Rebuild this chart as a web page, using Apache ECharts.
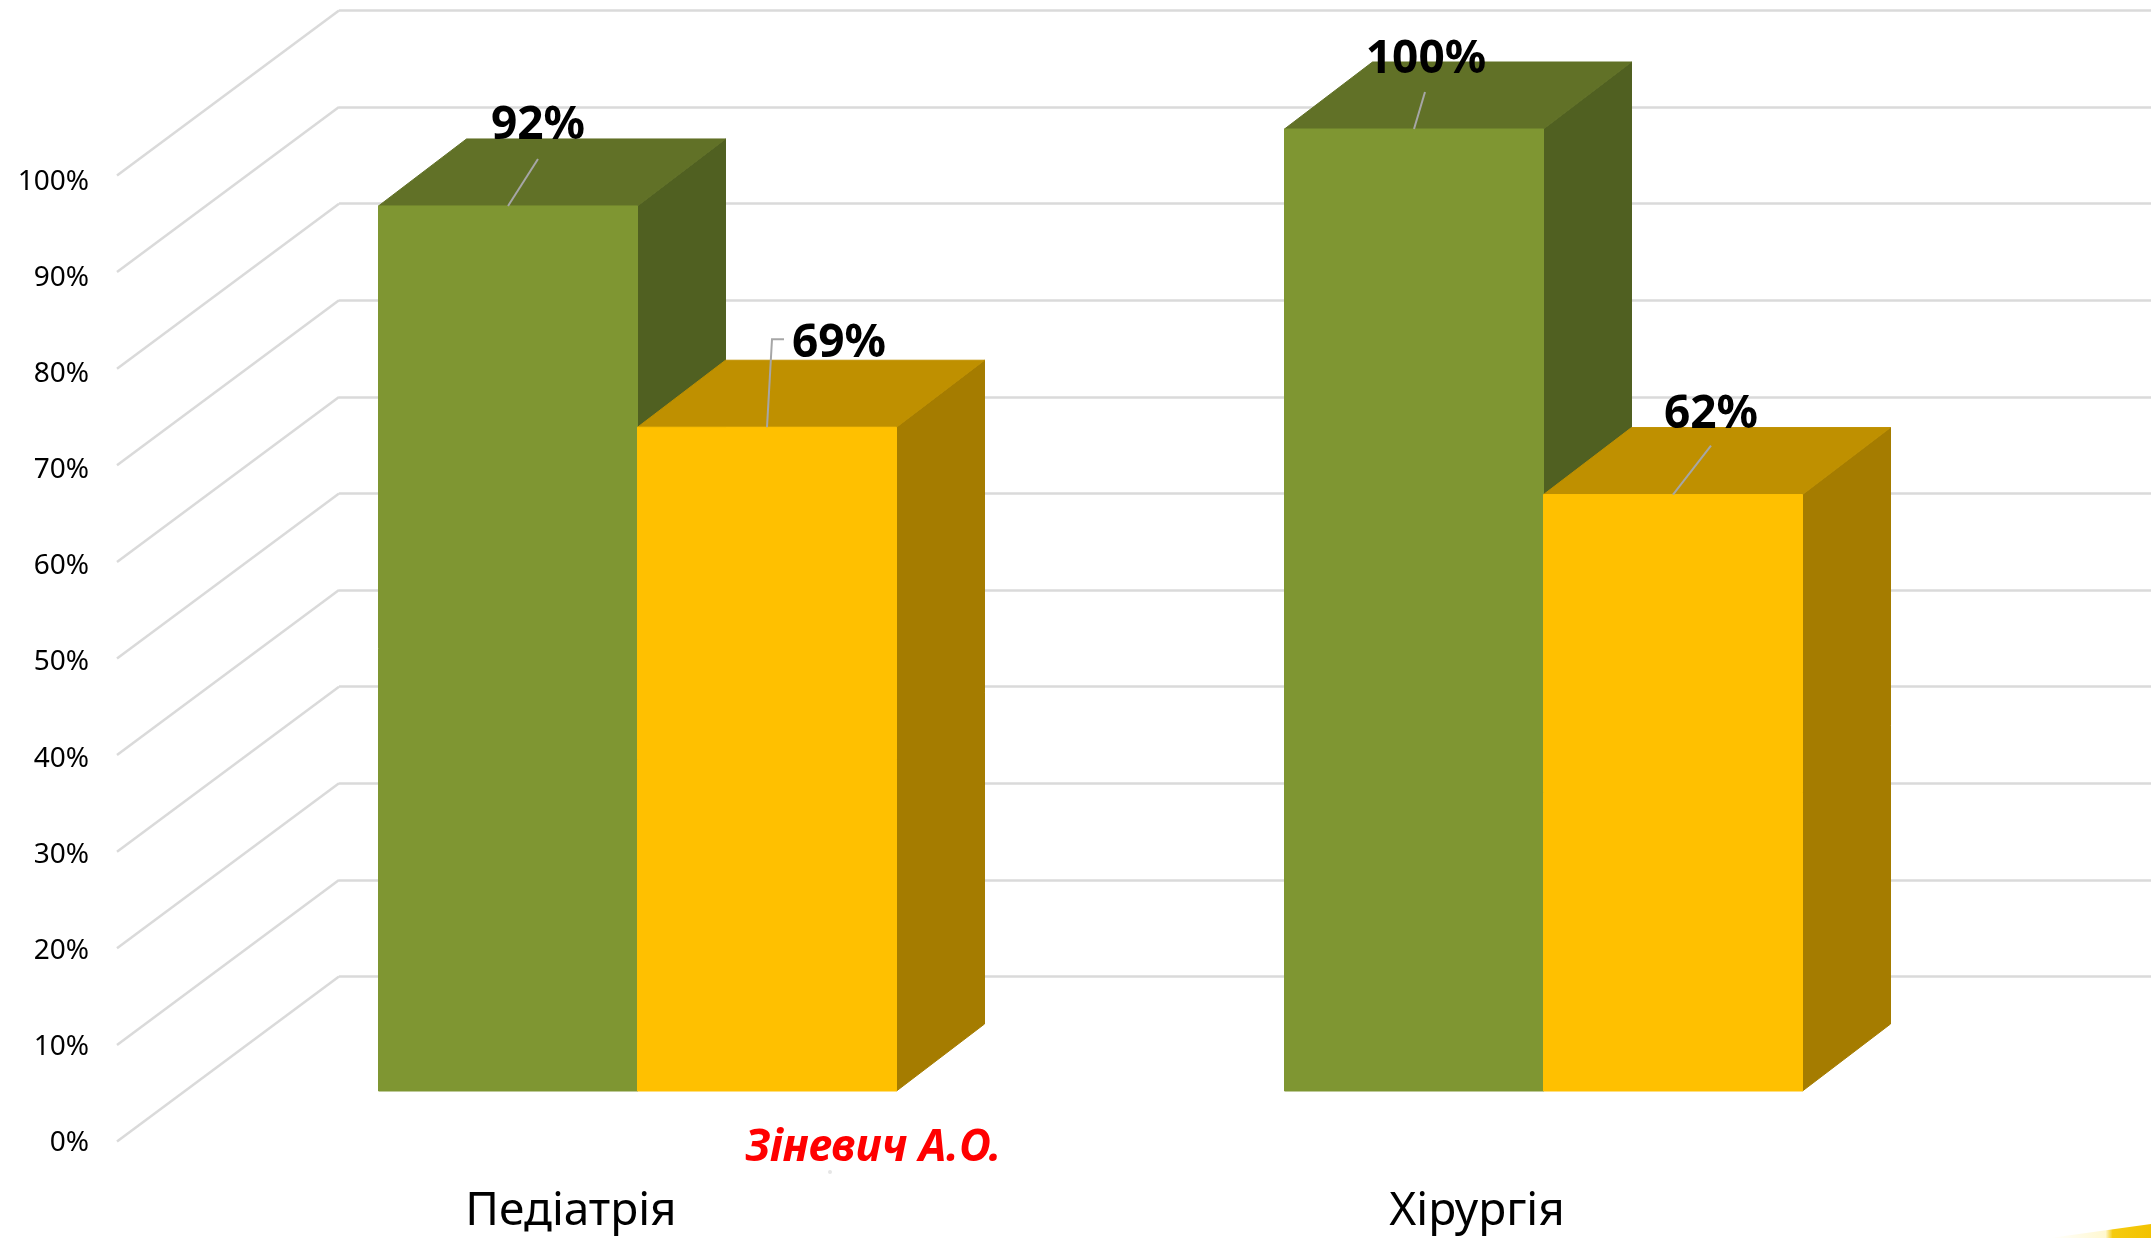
<!DOCTYPE html>
<html>
<head>
<meta charset="utf-8">
<style>
  html, body { margin: 0; padding: 0; background: #fff; }
  #chart { width: 2151px; height: 1238px; }
</style>
<script src="https://cdn.jsdelivr.net/npm/echarts@6/dist/echarts.min.js"></script>
</head>
<body>
<div id="chart"></div>
<script>
const categories = ['Педіатрія', 'Хірургія']
const greenValues = [92, 100]
const yellowValues = [69, 62]
const wallTicks = [0, 10, 20, 30, 40, 50, 60, 70, 80, 90, 100]

// leader line and label position, relative to the middle of the bar's top edge
const greenLabels = [
  { text: [30, -80], line: [[0, 0], [30, -47]] },
  { text: [12, -69], line: [[0, 0], [11, -37]] }
]
const yellowLabels = [
  { text: [72, -83], line: [[0, 0], [5, -88], [17, -88]] },
  { text: [38, -80], line: [[0, 0], [38, -49]] }
]

const font = '"Noto Sans", sans-serif'
const barWidth = 259
const barDepth = [88, -67]
const wallDepth = [-222, 165]

function barSeries(name, values, labels, side, colors) {
  return {
    name: name,
    type: 'custom',
    xAxisIndex: 0,
    yAxisIndex: 0,
    z: 5,
    data: values.map((v, i) => [i, v]),
    renderItem: function(params, api) {
      const top = api.coord([api.value(0), api.value(1)])
      const base = api.coord([api.value(0), 0])
      const x0 = side < 0 ? top[0] - barWidth : top[0]
      const x1 = x0 + barWidth
      const dx = barDepth[0]
      const dy = barDepth[1]
      const mid = (x0 + x1) / 2
      const label = labels[params.dataIndex]
      const poly = (points, fill) => ({
        type: 'polygon',
        shape: { points: points },
        style: { fill: fill, stroke: fill, lineWidth: 1 }
      })
      return {
        type: 'group',
        children: [
          poly([[x1, top[1]], [x1 + dx, top[1] + dy], [x1 + dx, base[1] + dy], [x1, base[1]]], colors.side),
          poly([[x0, top[1]], [x0 + dx, top[1] + dy], [x1 + dx, top[1] + dy], [x1, top[1]]], colors.top),
          poly([[x0, top[1]], [x1, top[1]], [x1, base[1]], [x0, base[1]]], colors.front),
          {
            type: 'polyline',
            shape: { points: label.line.map(p => [mid + p[0], top[1] + p[1]]) },
            style: { stroke: '#a6a6a6', lineWidth: 2, fill: 'none' }
          },
          {
            type: 'text',
            x: mid + label.text[0],
            y: top[1] + label.text[1],
            style: {
              text: api.value(1) + '%',
              fill: '#000',
              font: 'bold 46px ' + font,
              align: 'center',
              verticalAlign: 'middle'
            }
          }
        ]
      }
    }
  }
}

const option = {
  animation: false,
  backgroundColor: '#fff',
  grid: [
    // front plane of the bars
    { left: 184.5, top: 129, width: 1812, height: 962 },
    // front edge of the floor and wall, carries the labels
    { left: 118, top: 182, width: 1812, height: 961 },
    // back wall
    { left: 339, top: 10.5, right: 0, height: 966 }
  ],
  xAxis: [
    { gridIndex: 0, type: 'category', data: categories, show: false },
    {
      gridIndex: 1,
      type: 'category',
      data: categories,
      axisLine: { show: false },
      axisTick: { show: false },
      axisLabel: { margin: 46, color: '#000', fontFamily: font, fontSize: 46 }
    },
    { gridIndex: 2, type: 'value', min: 0, max: 1, show: false }
  ],
  yAxis: [
    { gridIndex: 0, type: 'value', min: 0, max: 100, interval: 10, show: false },
    {
      gridIndex: 1,
      type: 'value',
      min: 0,
      max: 100,
      interval: 10,
      axisLine: { show: false },
      axisTick: { show: false },
      splitLine: { show: false },
      axisLabel: {
        margin: 29,
        color: '#000',
        fontFamily: font,
        fontSize: 28,
        formatter: '{value}%'
      }
    },
    {
      gridIndex: 2,
      type: 'value',
      min: 0,
      max: 100,
      interval: 10,
      axisLine: { show: false },
      axisTick: { show: false },
      axisLabel: { show: false },
      splitLine: { lineStyle: { color: '#dadada', width: 2.5 } }
    }
  ],
  series: [
    {
      // side wall lines, running from the back wall to the front edge
      type: 'custom',
      xAxisIndex: 2,
      yAxisIndex: 2,
      z: 1,
      data: wallTicks.map(v => [0, v]),
      renderItem: function(params, api) {
        const p = api.coord([0, api.value(1)])
        return {
          type: 'line',
          shape: { x1: p[0], y1: p[1], x2: p[0] + wallDepth[0], y2: p[1] + wallDepth[1] },
          style: { stroke: '#dadada', lineWidth: 2.5 }
        }
      }
    },
    barSeries('green', greenValues, greenLabels, -1, { front: '#7f9632', top: '#617127', side: '#506021' }),
    barSeries('yellow', yellowValues, yellowLabels, 1, { front: '#ffc000', top: '#bf9000', side: '#a57c00' })
  ],
  graphic: [
    {
      type: 'text',
      left: 745,
      top: 1126,
      z: 10,
      style: {
        text: 'Зіневич А.О.',
        fill: '#ff0000',
        font: 'italic bold 44px ' + font
      }
    },
    {
      type: 'circle',
      z: 0,
      shape: { cx: 830, cy: 1172, r: 2 },
      style: { fill: '#e6e6e6' }
    },
    {
      type: 'polygon',
      z: 0,
      shape: { points: [[2050, 1238], [2151, 1224], [2151, 1238]] },
      style: {
        fill: {
          type: 'linear',
          x: 0,
          y: 0,
          x2: 1,
          y2: 0,
          colorStops: [
            { offset: 0, color: '#ffffff' },
            { offset: 0.55, color: '#fff8d0' },
            { offset: 0.62, color: '#f5cb10' },
            { offset: 1, color: '#f2c200' }
          ]
        }
      }
    }
  ]
}

const chart = echarts.init(document.getElementById('chart'))
chart.setOption(option)
</script>
</body>
</html>
